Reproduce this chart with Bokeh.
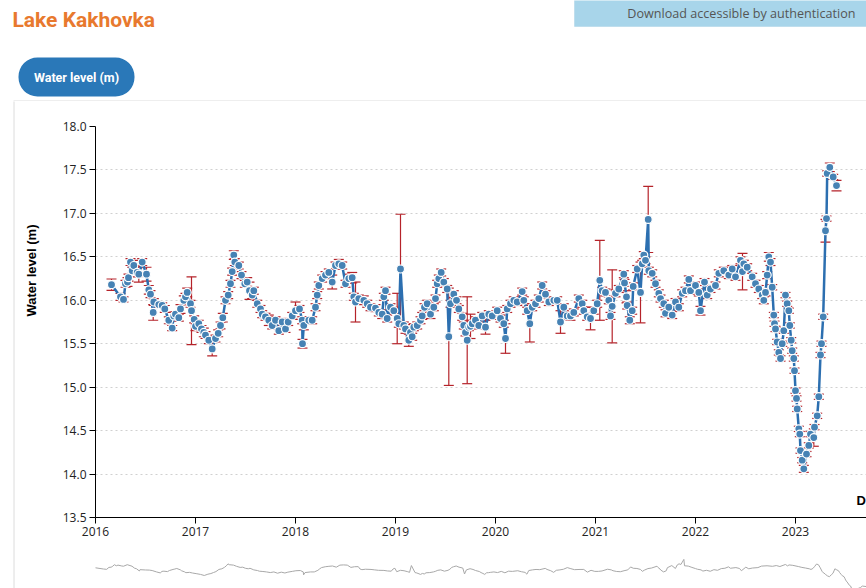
import math
from bokeh.plotting import figure
from bokeh.models import (Range1d, FixedTicker, Label, BoxAnnotation, ColumnDataSource)
from bokeh.layouts import column, row
from bokeh.embed import file_html
from bokeh.resources import INLINE

# ---------------- data (decimal year, water level m, uncertainty m) ----------------
dates = [
    2016.16, 2016.25, 2016.28, 2016.30, 2016.32, 2016.33, 2016.35, 2016.367, 2016.383, 2016.417,
    2016.433, 2016.467, 2016.51, 2016.533, 2016.55, 2016.577, 2016.583, 2016.633, 2016.667, 2016.693,
    2016.733, 2016.767, 2016.783, 2016.80, 2016.833, 2016.85, 2016.883, 2016.90, 2016.917, 2016.95,
    2016.96, 2016.987, 2017.00, 2017.033, 2017.06, 2017.083, 2017.10, 2017.133, 2017.167, 2017.20,
    2017.227, 2017.25, 2017.273, 2017.30, 2017.327, 2017.35, 2017.367, 2017.383, 2017.393, 2017.433,
    2017.46, 2017.493, 2017.517, 2017.54, 2017.567, 2017.583, 2017.617, 2017.65, 2017.667, 2017.70,
    2017.733, 2017.767, 2017.80, 2017.833, 2017.867, 2017.90, 2017.927, 2017.967, 2018.00, 2018.04,
    2018.067, 2018.07, 2018.083, 2018.133, 2018.167, 2018.20, 2018.217, 2018.233, 2018.267, 2018.30,
    2018.333, 2018.367, 2018.40, 2018.433, 2018.467, 2018.50, 2018.533, 2018.567, 2018.583, 2018.60,
    2018.633, 2018.683, 2018.717, 2018.75, 2018.80, 2018.833, 2018.867, 2018.883, 2018.90, 2018.917,
    2018.95, 2018.983, 2019.017, 2019.033, 2019.05, 2019.083, 2019.10, 2019.133, 2019.15, 2019.167,
    2019.183, 2019.217, 2019.25, 2019.267, 2019.29, 2019.317, 2019.35, 2019.383, 2019.40, 2019.417,
    2019.433, 2019.457, 2019.483, 2019.517, 2019.533, 2019.55, 2019.583, 2019.61, 2019.633, 2019.667,
    2019.683, 2019.70, 2019.717, 2019.733, 2019.75, 2019.767, 2019.80, 2019.833, 2019.867, 2019.90,
    2019.933, 2019.967, 2020.017, 2020.05, 2020.083, 2020.10, 2020.117, 2020.15, 2020.183, 2020.217,
    2020.267, 2020.283, 2020.317, 2020.343, 2020.367, 2020.40, 2020.433, 2020.467, 2020.50, 2020.533,
    2020.583, 2020.617, 2020.65, 2020.683, 2020.717, 2020.75, 2020.783, 2020.833, 2020.867, 2020.883,
    2020.917, 2020.95, 2020.983, 2021.017, 2021.043, 2021.067, 2021.10, 2021.133, 2021.15, 2021.167,
    2021.20, 2021.233, 2021.283, 2021.29, 2021.31, 2021.317, 2021.343, 2021.367, 2021.377, 2021.417,
    2021.45, 2021.467, 2021.483, 2021.50, 2021.527, 2021.533, 2021.567, 2021.60, 2021.633, 2021.65,
    2021.683, 2021.70, 2021.733, 2021.767, 2021.80, 2021.833, 2021.867, 2021.90, 2021.933, 2021.95,
    2022.00, 2022.033, 2022.05, 2022.09, 2022.117, 2022.15, 2022.20, 2022.233, 2022.283, 2022.333,
    2022.367, 2022.40, 2022.45, 2022.47, 2022.483, 2022.517, 2022.567, 2022.60, 2022.633, 2022.667,
    2022.683, 2022.70, 2022.717, 2022.733, 2022.75, 2022.767, 2022.783, 2022.79, 2022.80, 2022.817,
    2022.833, 2022.85, 2022.867, 2022.883, 2022.90, 2022.917, 2022.933, 2022.943, 2022.957, 2022.967,
    2022.983, 2022.99, 2023.00, 2023.01, 2023.017, 2023.033, 2023.043, 2023.05, 2023.067, 2023.083,
    2023.11, 2023.133, 2023.15, 2023.183, 2023.19, 2023.217, 2023.233, 2023.25, 2023.26, 2023.277,
    2023.30, 2023.31, 2023.317, 2023.343, 2023.377, 2023.41,
]
levels = [
    16.18, 16.04, 16.01, 16.19, 16.21, 16.26, 16.44, 16.34, 16.40, 16.32,
    16.30, 16.44, 16.30, 16.12, 16.07, 15.86, 15.98, 15.95, 15.94, 15.90,
    15.77, 15.68, 15.82, 15.84, 15.80, 15.90, 16.00, 16.04, 16.09, 15.96,
    15.88, 15.78, 15.70, 15.73, 15.67, 15.63, 15.60, 15.54, 15.44, 15.56,
    15.62, 15.71, 15.80, 16.00, 16.06, 16.19, 16.33, 16.52, 16.44, 16.40,
    16.29, 16.19, 16.21, 16.11, 16.06, 16.11, 15.96, 15.90, 15.84, 15.81,
    15.77, 15.71, 15.77, 15.65, 15.75, 15.67, 15.75, 15.82, 15.88, 15.90,
    15.77, 15.50, 15.71, 15.77, 15.77, 15.92, 16.06, 16.17, 16.25, 16.29,
    16.32, 16.21, 16.40, 16.42, 16.40, 16.19, 16.25, 16.26, 16.04, 15.98,
    16.02, 16.00, 15.96, 15.92, 15.91, 15.86, 15.84, 16.04, 16.11, 15.79,
    15.92, 15.88, 15.79, 15.73, 16.36, 15.71, 15.67, 15.54, 15.63, 15.58,
    15.69, 15.71, 15.77, 15.82, 15.92, 15.96, 15.84, 15.92, 16.02, 16.19,
    16.25, 16.32, 16.21, 16.13, 15.58, 15.96, 16.07, 16.00, 15.90, 15.81,
    15.71, 15.63, 15.54, 15.69, 15.70, 15.73, 15.77, 15.71, 15.82, 15.69,
    15.84, 15.82, 15.88, 15.79, 15.73, 15.56, 15.90, 15.96, 16.00, 15.98,
    16.10, 16.00, 15.88, 15.73, 15.92, 15.96, 16.02, 16.17, 16.07, 15.98,
    16.00, 16.00, 15.75, 15.92, 15.82, 15.82, 15.86, 16.02, 15.96, 15.88,
    15.81, 15.79, 15.88, 15.96, 16.23, 16.11, 16.09, 16.00, 15.82, 15.93,
    16.08, 16.13, 16.30, 16.20, 16.04, 15.94, 15.77, 15.88, 16.16, 16.36,
    16.09, 16.42, 16.52, 16.46, 16.93, 16.34, 16.31, 16.19, 16.08, 16.02,
    15.96, 15.85, 15.92, 15.83, 15.98, 15.92, 16.08, 16.11, 16.24, 16.11,
    16.17, 16.09, 15.88, 16.21, 16.06, 16.13, 16.17, 16.31, 16.34, 16.29,
    16.36, 16.27, 16.46, 16.33, 16.42, 16.38, 16.27, 16.19, 16.13, 16.06,
    16.00, 16.09, 16.29, 16.50, 16.44, 16.15, 15.83, 15.73, 15.67, 15.52,
    15.40, 15.33, 15.50, 15.65, 16.06, 15.96, 15.88, 15.71, 15.54, 15.42,
    15.33, 15.19, 14.96, 14.87, 14.75, 14.52, 14.46, 14.27, 14.16, 14.06,
    14.23, 14.33, 14.46, 14.42, 14.54, 14.67, 14.89, 15.37, 15.50, 15.81,
    16.80, 16.94, 17.46, 17.53, 17.42, 17.32,
]
errors = [
    0.065, 0.04, 0.03, 0.04, 0.05, 0.04, 0.04, 0.04, 0.06, 0.05,
    0.09, 0.04, 0.08, 0.05, 0.04, 0.09, 0.04, 0.03, 0.03, 0.04,
    0.04, 0.03, 0.04, 0.03, 0.04, 0.05, 0.05, 0.04, 0.05, 0.04,
    0.39, 0.04, 0.05, 0.04, 0.04, 0.05, 0.04, 0.04, 0.08, 0.04,
    0.04, 0.04, 0.05, 0.04, 0.04, 0.04, 0.04, 0.05, 0.04, 0.04,
    0.04, 0.04, 0.05, 0.10, 0.04, 0.04, 0.04, 0.04, 0.04, 0.04,
    0.06, 0.04, 0.04, 0.04, 0.04, 0.04, 0.04, 0.04, 0.10, 0.04,
    0.04, 0.05, 0.05, 0.04, 0.04, 0.04, 0.04, 0.04, 0.04, 0.04,
    0.04, 0.08, 0.04, 0.05, 0.04, 0.04, 0.05, 0.06, 0.04, 0.23,
    0.04, 0.05, 0.04, 0.04, 0.04, 0.04, 0.05, 0.04, 0.04, 0.04,
    0.04, 0.04, 0.29, 0.04, 0.63, 0.04, 0.05, 0.07, 0.04, 0.04,
    0.04, 0.04, 0.04, 0.04, 0.04, 0.04, 0.05, 0.04, 0.04, 0.04,
    0.04, 0.04, 0.04, 0.04, 0.56, 0.04, 0.04, 0.04, 0.04, 0.04,
    0.04, 0.04, 0.50, 0.04, 0.14, 0.04, 0.04, 0.04, 0.04, 0.08,
    0.04, 0.04, 0.04, 0.04, 0.04, 0.17, 0.04, 0.04, 0.04, 0.04,
    0.04, 0.04, 0.04, 0.21, 0.04, 0.04, 0.04, 0.04, 0.04, 0.04,
    0.04, 0.04, 0.13, 0.04, 0.04, 0.05, 0.04, 0.04, 0.04, 0.04,
    0.04, 0.13, 0.04, 0.04, 0.46, 0.04, 0.04, 0.04, 0.04, 0.42,
    0.04, 0.04, 0.04, 0.04, 0.07, 0.04, 0.04, 0.04, 0.04, 0.04,
    0.35, 0.04, 0.04, 0.04, 0.38, 0.04, 0.04, 0.04, 0.04, 0.04,
    0.04, 0.04, 0.04, 0.04, 0.04, 0.04, 0.04, 0.04, 0.04, 0.04,
    0.04, 0.04, 0.05, 0.04, 0.04, 0.04, 0.04, 0.04, 0.04, 0.04,
    0.04, 0.04, 0.04, 0.21, 0.04, 0.04, 0.04, 0.04, 0.04, 0.04,
    0.04, 0.04, 0.04, 0.05, 0.04, 0.03, 0.03, 0.03, 0.03, 0.03,
    0.03, 0.03, 0.03, 0.03, 0.03, 0.03, 0.03, 0.03, 0.03, 0.03,
    0.03, 0.03, 0.03, 0.03, 0.03, 0.03, 0.03, 0.03, 0.03, 0.04,
    0.03, 0.03, 0.03, 0.10, 0.03, 0.03, 0.03, 0.03, 0.03, 0.03,
    0.13, 0.03, 0.03, 0.05, 0.03, 0.06,
]

year_ticks = [2016, 2017, 2018, 2019, 2020, 2021, 2022, 2023]
year_labels = ["2016", "2017", "2018", "2019", "2020", "2021", "2022", "2023"]
level_ticks = [13.5, 14.0, 14.5, 15.0, 15.5, 16.0, 16.5, 17.0, 17.5, 18.0]
level_labels = ["13.5", "14.0", "14.5", "15.0", "15.5", "16.0", "16.5", "17.0", "17.5", "18.0"]

title_text = "Lake Kakhovka"
button_text = "Water level (m)"
download_text = "Download accessible by authentication"
y_title = "Water level (m)"
x_title = "D"   # only the first letter of the x-axis title is visible in the reference

RED = "#b5232a"
BLUE_LINE = "#2c6fb0"
BLUE_PT = "#4682b4"
BORDER = "#dcdcdc"
COND_FONT = "Roboto"

W, H = 866, 588
HEAD_H = 101          # header strip height (page y 0..101)
LEFT_W = 50           # left strip width (page x 0..50)
NAV_H = 43            # navigator height (page y 545..588)
MAIN_H = H - HEAD_H - NAV_H
FR_L, FR_T, FR_B = 95, 126, 517   # main frame edges, page pixels


def pixel_fig(w, h):
    f = figure(width=w, height=h, output_backend="svg", toolbar_location=None,
               x_range=Range1d(0, w), y_range=Range1d(h, 0), min_border=0,
               x_axis_type=None, y_axis_type=None)
    f.outline_line_color = None
    f.xgrid.grid_line_color = None
    f.ygrid.grid_line_color = None
    return f


# ---------------- header (page-pixel coordinates) ----------------
head = pixel_fig(W, HEAD_H)
head.add_layout(BoxAnnotation(left=574, right=W + 5, top=-5, bottom=26,
                              fill_color="#a8d5ea", fill_alpha=1, line_color="#93c5dd", line_width=1))
head.add_layout(Label(x=855, y=13, text=download_text, text_align="right", text_baseline="middle",
                      text_font="Open Sans", text_font_size="12.6px", text_color="#555555"))
head.add_layout(BoxAnnotation(left=18, right=134, top=57, bottom=96,
                              fill_color="#2a78b8", fill_alpha=1, line_color=None, border_radius=19))
head.add_layout(Label(x=76, y=77, text=button_text, text_align="center", text_baseline="middle",
                      text_font=COND_FONT, text_font_style="bold",
                      text_font_size="12.5px", text_color="white"))
head.add_layout(Label(x=12, y=19, text=title_text, text_align="left", text_baseline="middle",
                      text_font=COND_FONT, text_font_style="bold",
                      text_font_size="21px", text_color="#e8792e"))
head.segment(x0=[13], y0=[100.5], x1=[W + 5], y1=[100.5], line_color=BORDER, line_width=1)

# ---------------- left strip: frame border + y title ----------------
left = pixel_fig(LEFT_W, H - HEAD_H)
left.segment(x0=[13.5], y0=[-5], x1=[13.5], y1=[H], line_color=BORDER, line_width=1)
left.add_layout(Label(x=31, y=270 - HEAD_H, text=y_title, angle=math.pi / 2, text_align="center",
                      text_baseline="middle", text_font="Liberation Sans", text_font_style="bold",
                      text_font_size="13px", text_color="black"))

# ---------------- main chart ----------------
lower = [v - e for v, e in zip(levels, errors)]
upper = [v + e for v, e in zip(levels, errors)]
src = ColumnDataSource(dict(date=dates, level=levels, lower=lower, upper=upper))

p = figure(width=W - LEFT_W, height=MAIN_H, output_backend="svg", toolbar_location=None,
           x_range=Range1d(2016.0, 2016.0 + (W - FR_L) / 100.0), y_range=Range1d(13.5, 18.0),
           min_border_left=FR_L - LEFT_W, min_border_right=0,
           min_border_top=FR_T - HEAD_H, min_border_bottom=HEAD_H + MAIN_H - FR_B)
p.outline_line_color = None
for ax in (p.xaxis[0], p.yaxis[0]):
    ax.axis_line_color = "black"
    ax.major_tick_line_color = "black"
    ax.minor_tick_line_color = None
    ax.major_tick_in = 0
    ax.major_tick_out = 6
    ax.major_label_text_font = "Open Sans"
    ax.major_label_text_font_size = "12px"
    ax.major_label_text_color = "#222"
    ax.major_label_standoff = 3
p.xaxis.ticker = FixedTicker(ticks=year_ticks)
p.xaxis.major_label_overrides = {t: l for t, l in zip(year_ticks, year_labels)}
p.yaxis.ticker = FixedTicker(ticks=level_ticks)
p.yaxis.major_label_overrides = {t: l for t, l in zip(level_ticks, level_labels)}
p.xgrid.grid_line_color = None
p.ygrid.grid_line_color = "#d0d0d0"
p.ygrid.grid_line_dash = "2 3"

p.segment(x0="date", y0="lower", x1="date", y1="upper", source=src, line_color=RED, line_width=1.2)
p.scatter(x="date", y="upper", source=src, marker="dash", size=10, line_color=RED, line_width=1.2)
p.scatter(x="date", y="lower", source=src, marker="dash", size=10, line_color=RED, line_width=1.2)
p.line(x="date", y="level", source=src, line_color=BLUE_LINE, line_width=2.5)
p.scatter(x="date", y="level", source=src, marker="circle", size=8, fill_color=BLUE_PT,
          line_color="white", line_width=1.2)
p.add_layout(Label(x=2016.0 + (856 - FR_L) / 100.0, y=13.7, text=x_title, text_align="left",
                   text_baseline="middle", text_font="Liberation Sans", text_font_style="bold",
                   text_font_size="13px", text_color="black"))

# ---------------- navigator (its frame aligns with the main frame: page x 95..866) ----------------
NX0_PX, NX0_YR, NPX_PER_YR = 93, 2016.16, 110.0
NY0_PX, NY0_V, NPX_PER_M = 567, 16.18, 10.8


def nx(sx):
    return NX0_YR + (sx - NX0_PX) / NPX_PER_YR


def ny(sy):
    return NY0_V - (sy - NY0_PX) / NPX_PER_M


nav = figure(width=W - LEFT_W, height=NAV_H, output_backend="svg", toolbar_location=None,
             x_range=Range1d(nx(FR_L), nx(W)), y_range=Range1d(ny(H), ny(H - NAV_H)),
             min_border=0, x_axis_type=None, y_axis_type=None)
nav.outline_line_color = None
nav.xgrid.grid_line_color = None
nav.ygrid.grid_line_color = None
nav.line(x="date", y="level", source=src, line_color="#a8a8a8", line_width=1)

layout = column(head, row(left, column(p, nav, spacing=0), spacing=0), spacing=0)
open("out.html", "w").write(file_html(layout, INLINE))
